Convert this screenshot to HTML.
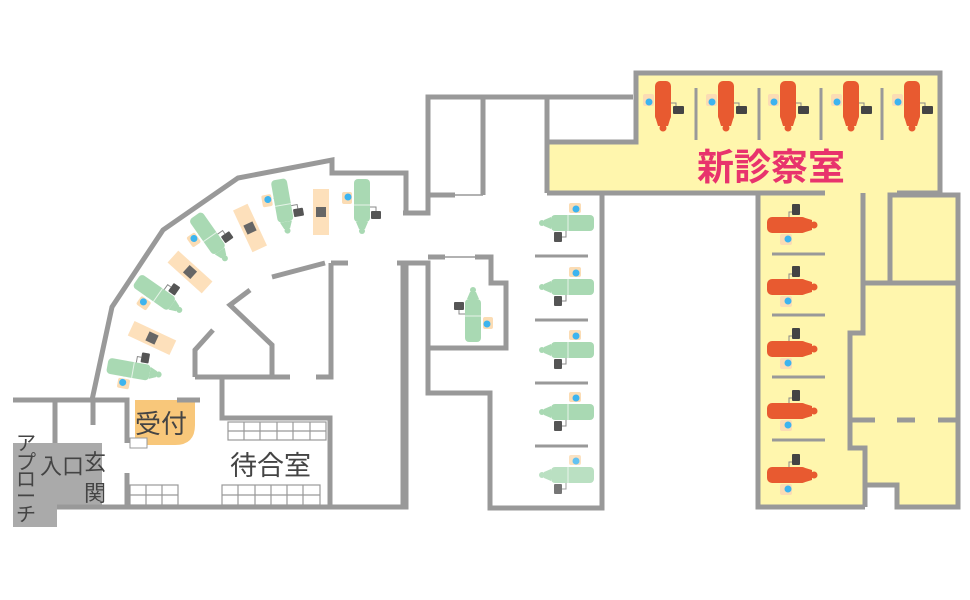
<!DOCTYPE html>
<html><head><meta charset="utf-8"><style>
html,body{margin:0;padding:0;background:#fff;}
svg{display:block;}
text{font-family:"Liberation Sans","Noto Sans CJK JP",sans-serif;}
</style></head><body>
<svg width="970" height="600" viewBox="0 0 970 600" xmlns="http://www.w3.org/2000/svg">
<defs>
<g id="gc">
  <rect x="1" y="-20" width="12" height="10" rx="2" fill="#fbdcb4"/>
  <circle cx="8" cy="-14" r="3.5" fill="#3db4ef"/>
  <path d="M8 -8 V -5" stroke="#888" stroke-width="1" fill="none"/>
  <rect x="-17" y="-8" width="43" height="16" rx="4" fill="#a9d9b3"/>
  <path d="M-17 -6 L-24 -3 L-24 3 L-17 6 Z" fill="#a9d9b3"/>
  <circle cx="-26" cy="0" r="3" fill="#a9d9b3"/>
  <line x1="0" y1="-8" x2="0" y2="8" stroke="#e6f3e8" stroke-width="1"/>
  <path d="M-2 8 V 14 H-6" stroke="#888" stroke-width="1" fill="none"/>
  <rect x="-14" y="9" width="8" height="10" rx="1" fill="#555"/>
</g>
<g id="oc">
  <rect x="-12" y="9" width="12" height="11" rx="2" fill="#fbdcb4"/>
  <circle cx="-4" cy="14" r="3.5" fill="#3db4ef"/>
  <path d="M-3 -8 V -13 H2" stroke="#888" stroke-width="1" fill="none"/>
  <rect x="0" y="-21" width="8" height="11" rx="1" fill="#444"/>
  <rect x="-25" y="-8" width="40" height="16" rx="5" fill="#e85a30"/>
  <path d="M10 -8 L20 -5 L20 5 L10 8 Z" fill="#e85a30"/>
  <circle cx="22" cy="0" r="3.5" fill="#e85a30"/>
</g>
<g id="tb">
  <rect x="-23" y="-8" width="46" height="16" fill="#fde0bb"/>
  <rect x="-5" y="-5" width="10" height="10" fill="#666"/>
</g>
</defs>

<!-- yellow areas -->
<path d="M636 73 H940 V193 H890 V195 H958 V283 H958 V507 H897 V485 H865 V507 H758 V193 H548 V142 H636 Z" fill="#fff6ad"/>

<!-- grey entrance -->
<rect x="13" y="443" width="44" height="84" fill="#aaa"/>
<rect x="57" y="443" width="45" height="63" fill="#aaa"/>

<!-- reception -->
<path d="M135 400 H195 V425 Q195 445 175 445 H135 Z" fill="#f8c77a"/>
<rect x="130" y="438" width="17" height="10" fill="#fff" stroke="#999" stroke-width="1"/>

<g fill="none" stroke="#999" stroke-width="5" stroke-linejoin="miter">
<!-- left section outer -->
<path d="M420 213 H406 V173 H332 V160 L238 178 L163 230 L112 307 L92 400"/>
<path d="M13 400 H127 V443"/>
<path d="M177 400 H200"/>
<path d="M55 400 V443"/>
<path d="M93 400 V425"/>
<path d="M57 507 H406 V263 H397"/>
<path d="M127 473 V507"/>
<path d="M222 377 V418 H330 V507"/>
<path d="M195 377 H290"/>
<path d="M195 377 V350 L213 330"/>
<path d="M250 290 L230 305 L272 345 L272 377"/>
<path d="M272 277 L325 263"/>
<path d="M331 263 V377 H316"/>
<path d="M331 263 H348"/>
<!-- middle -->
<path d="M403 213 H428 V97 H633"/>
<path d="M483 97 V195"/>
<path d="M428 195 H455"/>
<path d="M547 97 V193"/>
<path d="M403 508 V263 H428 V393 H490 V508 H602 V193"/>
<path d="M428 257 H445 M475 257 H491 V283 H506 V348 H428"/>
<path d="M547 193 H602"/>
<!-- right -->
<path d="M548 142 H636 V73 H940 V193 H897"/>
<path d="M600 193 H825"/>
<path d="M758 193 V507 H865"/>
<path d="M863 193 V333 H850 V448 H865 V507"/>
<path d="M865 485 H897 V507 H958 V195 H890 V283 H958"/>
<path d="M863 283 H890"/>
<path d="M850 420 H875 M897 420 H915 M938 420 H958"/>
</g>
<g stroke="#999" stroke-width="1.5">
<line x1="455" y1="195" x2="483" y2="195"/>
<line x1="445" y1="257" x2="475" y2="257"/>
<line x1="555" y1="142" x2="600" y2="142"/>
</g>
<g stroke="#999" stroke-width="3">
<line x1="696" y1="88" x2="696" y2="140"/>
<line x1="759" y1="88" x2="759" y2="140"/>
<line x1="821" y1="88" x2="821" y2="140"/>
<line x1="882" y1="88" x2="882" y2="140"/>
<line x1="772" y1="254" x2="825" y2="254"/>
<line x1="772" y1="315" x2="825" y2="315"/>
<line x1="772" y1="377" x2="825" y2="377"/>
<line x1="772" y1="440" x2="825" y2="440"/>
<line x1="535" y1="256" x2="588" y2="256"/>
<line x1="535" y1="320" x2="588" y2="320"/>
<line x1="535" y1="383" x2="588" y2="383"/>
<line x1="535" y1="446" x2="588" y2="446"/>
</g>

<!-- benches -->
<g fill="#fff" stroke="#999" stroke-width="1.2">
<rect x="228" y="422" width="98" height="18"/>
<path d="M244 422V440M260 422V440M277 422V440M293 422V440M310 422V440M228 431H326"/>
<rect x="222" y="485" width="98" height="20"/>
<path d="M238 485V505M255 485V505M271 485V505M287 485V505M303 485V505M222 495H320"/>
<rect x="130" y="485" width="48" height="20"/>
<path d="M146 485V505M162 485V505M130 495H178"/>
</g>

<!-- orange chairs -->
<use href="#oc" transform="translate(663,106) rotate(90)"/>
<use href="#oc" transform="translate(726,106) rotate(90)"/>
<use href="#oc" transform="translate(788,106) rotate(90)"/>
<use href="#oc" transform="translate(851,106) rotate(90)"/>
<use href="#oc" transform="translate(912,106) rotate(90)"/>
<use href="#oc" transform="translate(792,225)"/>
<use href="#oc" transform="translate(792,287)"/>
<use href="#oc" transform="translate(792,349)"/>
<use href="#oc" transform="translate(792,411)"/>
<use href="#oc" transform="translate(792,475)"/>

<!-- green chairs middle -->
<use href="#gc" transform="translate(568,223)"/>
<use href="#gc" transform="translate(568,287)"/>
<use href="#gc" transform="translate(568,350)"/>
<use href="#gc" transform="translate(568,412)"/>
<use href="#gc" transform="translate(568,475)" opacity="0.8"/>
<use href="#gc" transform="translate(473,316) rotate(90)"/>

<!-- left chairs -->
<use href="#gc" transform="translate(133,370) rotate(190)"/>
<use href="#tb" transform="translate(152,338) rotate(25)"/>
<use href="#gc" transform="translate(158,295) rotate(215)"/>
<use href="#tb" transform="translate(190,272) rotate(42)"/>
<use href="#gc" transform="translate(210,237) rotate(235)"/>
<use href="#tb" transform="translate(250,228) rotate(65)"/>
<use href="#gc" transform="translate(283,205) rotate(260)"/>
<use href="#tb" transform="translate(321,212) rotate(90)"/>
<use href="#gc" transform="translate(362,205) rotate(270)"/>

<!-- labels -->
<text x="697" y="180" font-size="37" font-weight="bold" fill="#e8336d">新診察室</text>
<text x="135" y="433" font-size="26" fill="#444">受付</text>
<text x="230" y="475" font-size="27" fill="#444">待合室</text>
<text x="40" y="474" font-size="22" fill="#444">入口</text>
<g font-size="20" fill="#444" text-anchor="middle">
<text x="26" y="450">ア</text>
<text x="26" y="469">プ</text>
<text x="26" y="486">ロ</text>
<text x="26" y="503">ー</text>
<text x="26" y="521">チ</text>
<text x="95" y="470" font-size="22">玄</text>
<text x="95" y="501" font-size="22">関</text>
</g>
</svg>
</body></html>
